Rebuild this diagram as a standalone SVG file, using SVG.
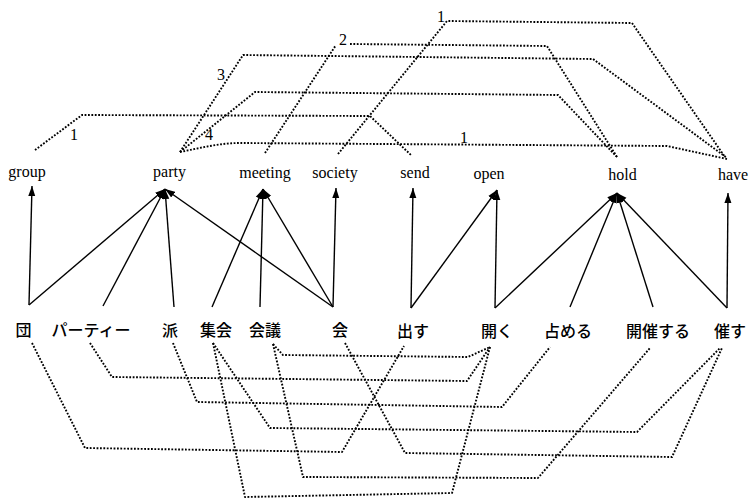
<svg xmlns="http://www.w3.org/2000/svg" width="750" height="504" viewBox="0 0 750 504">
<defs>
<style>
.en{font-family:"Liberation Serif","Times New Roman",serif;font-size:16px;fill:#000;text-anchor:middle}
.ja{font-family:"Noto Sans CJK JP","Noto Sans CJK SC",sans-serif;font-size:16px;font-weight:500;fill:#000;text-anchor:middle}
.num{font-family:"Liberation Serif","Times New Roman",serif;font-size:16px;fill:#000;text-anchor:middle}
.arr{stroke:#000;stroke-width:1.4;fill:none;marker-end:url(#ah)}
.dot{stroke:#000;stroke-width:1.9;fill:none;stroke-dasharray:1.8 1.6;stroke-linejoin:round}
</style>
<marker id="ah" markerWidth="11" markerHeight="9" refX="10" refY="4.5" orient="auto" markerUnits="userSpaceOnUse">
<path d="M0,1 L10,4.5 L0,8 Z" fill="#000"/>
</marker>
</defs>
<rect width="750" height="504" fill="#fff"/>

<g id="connectors">
<!-- solid arrows: Japanese word -> English word -->
<line class="arr" x1="29" y1="305" x2="32" y2="186"/>
<line class="arr" x1="29" y1="305" x2="165" y2="189"/>
<line class="arr" x1="103" y1="306" x2="165" y2="189"/>
<line class="arr" x1="174" y1="307" x2="165" y2="189"/>
<line class="arr" x1="333" y1="307" x2="165" y2="189"/>
<line class="arr" x1="212" y1="307" x2="263" y2="189"/>
<line class="arr" x1="260" y1="307" x2="263" y2="189"/>
<line class="arr" x1="333" y1="307" x2="263" y2="189"/>
<line class="arr" x1="333" y1="307" x2="336" y2="188"/>
<line class="arr" x1="411" y1="308" x2="413" y2="188"/>
<line class="arr" x1="411" y1="308" x2="497" y2="190"/>
<line class="arr" x1="495" y1="308" x2="497" y2="190"/>
<line class="arr" x1="495" y1="308" x2="617" y2="193"/>
<line class="arr" x1="570" y1="307" x2="617" y2="193"/>
<line class="arr" x1="653" y1="307" x2="617" y2="193"/>
<line class="arr" x1="727" y1="308" x2="617" y2="193"/>
<line class="arr" x1="727" y1="308" x2="728" y2="193"/>

<!-- dotted links among English words -->
<path class="dot" d="M35,150 L82,115 L370,116 L412,156"/>
<path class="dot" d="M180,152 L243,55 L593,59 L727,158"/>
<path class="dot" d="M180,152 L255,92 L558,95 L617,157"/>
<path class="dot" d="M180,152 C200,148 220,143 240,143 L667,146 L727,159"/>
<path class="dot" d="M265,153 L336,45 M350,44 L547,46 L617,157"/>
<path class="dot" d="M338,154 L447,21 L632,23 L725,157"/>
<text class="num" x="74" y="140">1</text>
<text class="num" x="221" y="80">3</text>
<text class="num" x="209" y="140">4</text>
<text class="num" x="343" y="45">2</text>
<text class="num" x="441" y="22">1</text>
<text class="num" x="464" y="143">1</text>

<!-- dotted links among Japanese words -->
<path class="dot" d="M32,343 L85,448 L342,452 L404,346"/>
<path class="dot" d="M90,343 L112,377 L467,381 L490,347"/>
<path class="dot" d="M173,343 L197,402 L502,407 L550,347"/>
<path class="dot" d="M213,343 L270,428 L637,432 L720,348"/>
<path class="dot" d="M213,343 L245,497 L452,493 L490,347"/>
<path class="dot" d="M273,344 L283,355 L468,357 L490,347"/>
<path class="dot" d="M273,344 L303,477 L538,478 L650,348"/>
<path class="dot" d="M345,343 L405,453 L672,457 L722,348"/>
</g>

<g id="n-group"><text class="en" x="27" y="177">group</text></g>
<g id="n-party"><text class="en" x="169.5" y="177">party</text></g>
<g id="n-meeting"><text class="en" x="265" y="178">meeting</text></g>
<g id="n-society"><text class="en" x="335" y="178">society</text></g>
<g id="n-send"><text class="en" x="415" y="178">send</text></g>
<g id="n-open"><text class="en" x="489" y="179">open</text></g>
<g id="n-hold"><text class="en" x="622.5" y="180">hold</text></g>
<g id="n-have"><text class="en" x="733" y="180">have</text></g>

<g id="n-dan"><text class="ja" x="23.5" y="336">団</text></g>
<g id="n-paatii"><text class="ja" x="91" y="336">パーティー</text></g>
<g id="n-ha"><text class="ja" x="170" y="336">派</text></g>
<g id="n-shuukai"><text class="ja" x="216" y="336">集会</text></g>
<g id="n-kaigi"><text class="ja" x="265" y="336">会議</text></g>
<g id="n-kai"><text class="ja" x="340" y="336">会</text></g>
<g id="n-dasu"><text class="ja" x="413" y="337">出す</text></g>
<g id="n-hiraku"><text class="ja" x="497" y="337">開く</text></g>
<g id="n-shimeru"><text class="ja" x="568" y="337">占める</text></g>
<g id="n-kaisaisuru"><text class="ja" x="658" y="337">開催する</text></g>
<g id="n-moyoosu"><text class="ja" x="730" y="337">催す</text></g>
</svg>
